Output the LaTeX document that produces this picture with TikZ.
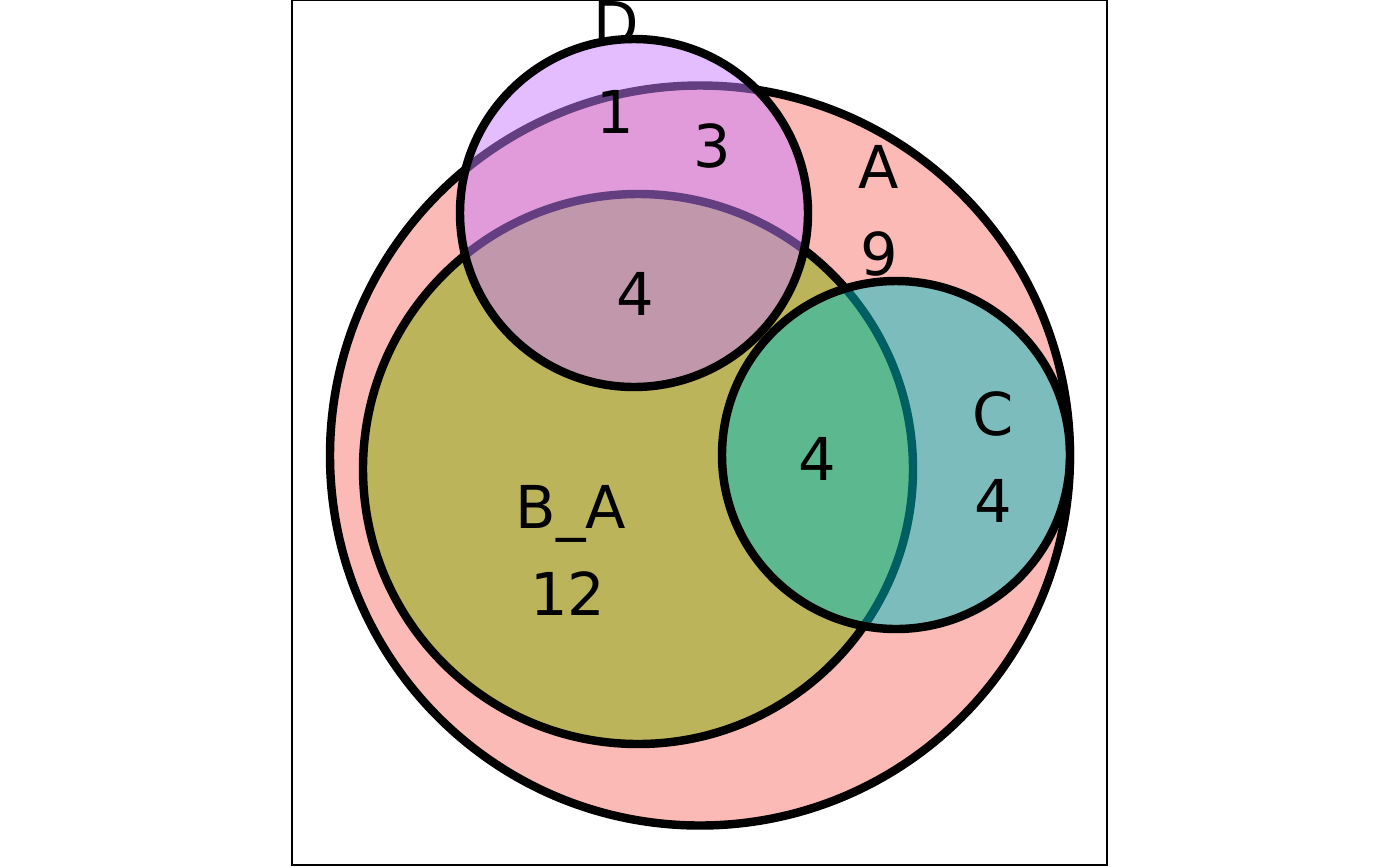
\documentclass[tikz,border=0pt]{standalone}
\usepackage{fontspec}
\setmainfont{DejaVu Sans}
\usepackage{tikz}
\definecolor{colA}{HTML}{F8766D}
\definecolor{colB}{HTML}{7CAE00}
\definecolor{colC}{HTML}{00BFC4}
\definecolor{colD}{HTML}{C77CFF}
\tikzset{
  setline/.style={line width=2.4pt, fill opacity=0.5},
  setlabel/.style={anchor=base, inner sep=0pt, font=\fontsize{16.8}{20}\selectfont},
  plotframe/.style={line width=0.4pt}
}
\newcommand{\setcircle}[5]{\filldraw[setline, fill=#2] ( #3 , #4 ) coordinate (#1) circle ( #5 );}
\newcommand{\setlabel}[4]{\node[setlabel] (#1) at ( #2 , #3 ) {#4};}

\begin{document}
\begin{tikzpicture}[x=0.01cm, y=-0.01cm]
        \useasboundingbox (0,0) rectangle (1400,866);
        \draw[plotframe] (292,0.5) rectangle (1107,865);
        % sets
        \setcircle{cA}{colA}{700}{455.5}{370}
        \setcircle{cB}{colB}{638}{469}{275}
        \setcircle{cC}{colC}{896}{455}{174}
        \setcircle{cD}{colD}{634}{213}{174}
        % set names and counts
        \setlabel{nameD}{616}{44}{D}
        \setlabel{cntD}{615}{133}{1}
        \setlabel{cntAD}{712}{167}{3}
        \setlabel{nameA}{879}{188}{A}
        \setlabel{cntA}{879}{275}{9}
        \setlabel{cntABD}{635}{315}{4}
        \setlabel{nameC}{993}{435}{C}
        \setlabel{cntAC}{993}{522}{4}
        \setlabel{cntABC}{817}{480}{4}
        \setlabel{nameB}{571}{528}{B\_A}
        \setlabel{cntAB}{568}{615}{12}
\end{tikzpicture}
\end{document}
